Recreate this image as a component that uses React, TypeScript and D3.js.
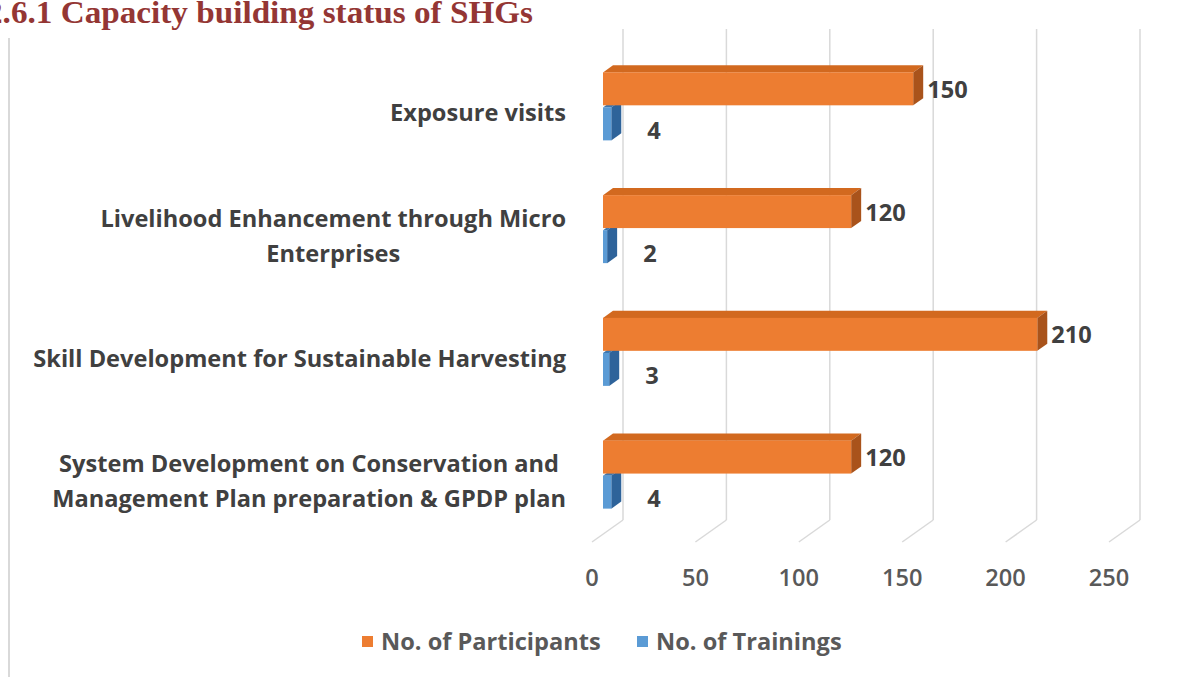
import React, { useRef, useEffect } from 'react';
import * as d3 from 'd3';

// ==================== DATA ====================
const categories = [
  'Exposure visits',
  'Livelihood Enhancement through Micro\nEnterprises',
  'Skill Development for Sustainable Harvesting',
  'System Development on Conservation and\nManagement Plan preparation & GPDP plan',
];
const participants = [150, 120, 210, 120];
const trainings = [4, 2, 3, 4];
const xTicks = [0, 50, 100, 150, 200, 250];
const seriesNames = ['No. of Participants', 'No. of Trainings'];

const COLORS = {
  orange: '#ED7D31',
  orangeTop: '#D2691F',
  orangeSide: '#A9531B',
  blue: '#5B9BD5',
  blueTop: '#3F76AC',
  blueSide: '#2E639A',
  grid: '#D9D9D9',
  text: '#404040',
  tick: '#595959',
  title: '#943634',
};

const W = 1183;
const H = 677;
const FONT = "'Open Sans', Lato, sans-serif";
const FS = 23.6;

// depth (oblique 3D) settings
const DX = 1;
const DY = -0.71;
const BAR_FRONT = 11;
const BAR_DEPTH = 10;
const WALL = 31;

const App = () => {
  const svgRef = useRef<SVGSVGElement | null>(null);

  useEffect(() => {
    if (!svgRef.current) return;
    const svg = d3.select(svgRef.current);
    svg.selectAll('*').remove();

    const x = d3.scaleLinear().domain([0, 250]).range([592, 1109]);
    const y = d3.scaleBand().domain(categories).range([45, 536]);
    const ys = d3.scaleBand().domain(seriesNames).range([-34, 34]).paddingInner(0.06);

    svg.append('rect').attr('width', W).attr('height', H).attr('fill', '#fff');

    // title (cut at the left edge as in the source)
    svg.append('text')
      .attr('x', -14)
      .attr('y', 23)
      .attr('font-family', "'Liberation Serif', serif")
      .attr('font-weight', 'bold')
      .attr('font-size', 32)
      .attr('fill', COLORS.title)
      .attr('textLength', 547)
      .attr('lengthAdjust', 'spacingAndGlyphs')
      .text('2.6.1 Capacity building status of SHGs');

    // chart frame left edge
    svg.append('line')
      .attr('x1', 9).attr('x2', 9).attr('y1', 38).attr('y2', H)
      .attr('stroke', COLORS.grid).attr('stroke-width', 2);

    // ==================== GRID (back wall + floor) ====================
    const wallBottom = 520;
    const floorFront = wallBottom - WALL * DY;
    const grid = svg.append('g');
    xTicks.forEach(t => {
      const bx = x(t) + WALL * DX;
      grid.append('line')
        .attr('x1', bx).attr('x2', bx).attr('y1', 29).attr('y2', wallBottom)
        .attr('stroke', COLORS.grid).attr('stroke-width', 1.5);
      grid.append('line')
        .attr('x1', bx).attr('y1', wallBottom).attr('x2', x(t)).attr('y2', floorFront)
        .attr('stroke', COLORS.grid).attr('stroke-width', 1.5);
      svg.append('text')
        .attr('x', x(t)).attr('y', 586)
        .attr('text-anchor', 'middle')
        .attr('font-family', FONT).attr('font-weight', 600).attr('font-size', FS)
        .attr('fill', COLORS.tick)
        .text(t);
    });

    // ==================== BARS ====================
    const dx = BAR_DEPTH * DX;
    const dy = BAR_DEPTH * DY;
    const drawBar = (v: number, yTop: number, h: number, front: string, top: string, side: string) => {
      const x0 = x(0) + BAR_FRONT * DX;
      const x1 = x(v) + BAR_FRONT * DX;
      const yb = yTop + h;
      const g = svg.append('g');
      g.append('polygon')
        .attr('points', `${x0},${yTop} ${x1},${yTop} ${x1 + dx},${yTop + dy} ${x0 + dx},${yTop + dy}`)
        .attr('fill', top);
      g.append('polygon')
        .attr('points', `${x1},${yTop} ${x1 + dx},${yTop + dy} ${x1 + dx},${yb + dy} ${x1},${yb}`)
        .attr('fill', side);
      g.append('rect')
        .attr('x', x0).attr('y', yTop).attr('width', x1 - x0).attr('height', h)
        .attr('fill', front);
      return x1 + dx;
    };

    categories.forEach((c, i) => {
      const cy = (y(c) as number) + y.bandwidth() / 2;
      const bh = ys.bandwidth();

      // trainings (lower, drawn first so the upper bar sits over its top face)
      const tTop = cy + (ys(seriesNames[1]) as number);
      const tEnd = drawBar(trainings[i], tTop, bh, COLORS.blue, COLORS.blueTop, COLORS.blueSide);
      svg.append('text')
        .attr('x', tEnd + 26).attr('y', tTop + bh / 2 + 15)
        .attr('font-family', FONT).attr('font-weight', 'bold').attr('font-size', FS)
        .attr('fill', COLORS.text)
        .text(trainings[i]);

      const pTop = cy + (ys(seriesNames[0]) as number);
      const pEnd = drawBar(participants[i], pTop, bh, COLORS.orange, COLORS.orangeTop, COLORS.orangeSide);
      svg.append('text')
        .attr('x', pEnd + 4).attr('y', pTop + bh / 2 + 9)
        .attr('font-family', FONT).attr('font-weight', 'bold').attr('font-size', FS)
        .attr('fill', COLORS.text)
        .text(participants[i]);

      // category label: block right-aligned, lines centred in the block
      const lines = c.split('\n');
      const lineH = 35;
      const lbl = svg.append('g')
        .attr('font-family', FONT).attr('font-weight', 'bold').attr('font-size', FS)
        .attr('fill', COLORS.text);
      const nodes = lines.map((ln, k) =>
        lbl.append('text')
          .attr('y', cy + 7 + (k - (lines.length - 1) / 2) * lineH + 8)
          .text(ln)
      );
      const widths = nodes.map(n => (n.node() as SVGTextElement).getComputedTextLength());
      const maxW = Math.max(...widths);
      nodes.forEach(n => n.attr('x', 566 - maxW / 2).attr('text-anchor', 'middle'));
    });

    // ==================== LEGEND ====================
    const legend = [
      { name: seriesNames[0], color: COLORS.orange, x: 362 },
      { name: seriesNames[1], color: COLORS.blue, x: 637 },
    ];
    legend.forEach(l => {
      svg.append('rect')
        .attr('x', l.x).attr('y', 636).attr('width', 11).attr('height', 11)
        .attr('fill', l.color);
      svg.append('text')
        .attr('x', l.x + 19).attr('y', 650)
        .attr('font-family', FONT).attr('font-weight', 'bold').attr('font-size', FS)
        .attr('fill', COLORS.tick)
        .text(l.name);
    });
  }, []);

  return (
    <svg
      ref={svgRef}
      width={W}
      height={H}
      style={{ position: 'absolute', left: 0, top: 0, display: 'block' }}
    />
  );
};

export default App;
